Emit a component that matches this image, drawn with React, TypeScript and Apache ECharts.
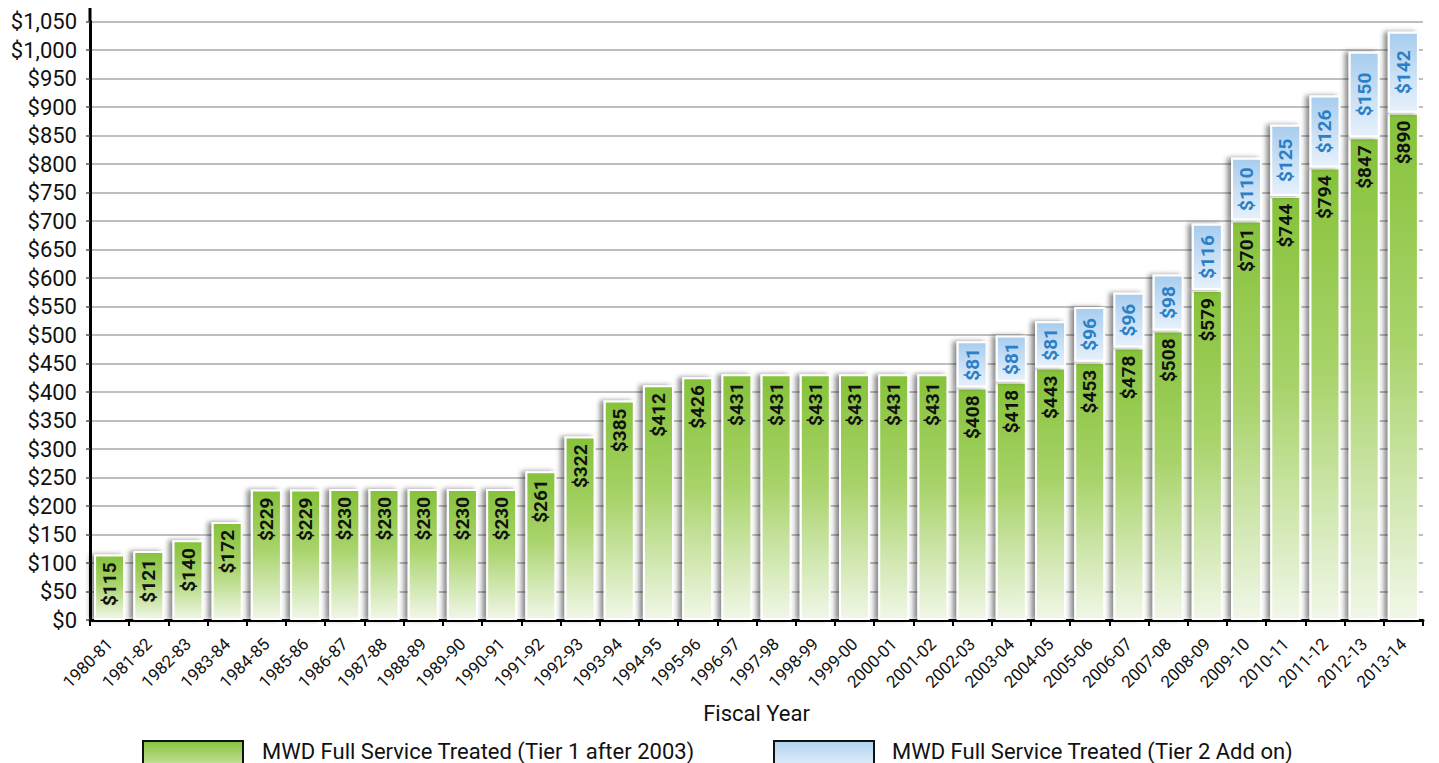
import React, { useEffect, useRef } from "react";
import * as echarts from "echarts";

const categories = [
  "1980-81", "1981-82", "1982-83", "1983-84", "1984-85", "1985-86", "1986-87", "1987-88",
  "1988-89", "1989-90", "1990-91", "1991-92", "1992-93", "1993-94", "1994-95", "1995-96",
  "1996-97", "1997-98", "1998-99", "1999-00", "2000-01", "2001-02", "2002-03", "2003-04",
  "2004-05", "2005-06", "2006-07", "2007-08", "2008-09", "2009-10", "2010-11", "2011-12",
  "2012-13", "2013-14",
];

const tier1Values = [
  115, 121, 140, 172, 229, 229, 230, 230, 230, 230, 230, 261, 322, 385, 412, 426,
  431, 431, 431, 431, 431, 431, 408, 418, 443, 453, 478, 508, 579, 701, 744, 794,
  847, 890,
];

const tier2Values: (number | null)[] = [
  null, null, null, null, null, null, null, null, null, null, null, null, null, null, null, null,
  null, null, null, null, null, null, 81, 81, 81, 96, 96, 98, 116, 110, 125, 126,
  150, 142,
];

const yTicks = { min: 0, max: 1050, interval: 50 };

const tier1Name = "MWD Full Service Treated (Tier 1 after 2003)";
const tier2Name = "MWD Full Service Treated (Tier 2 Add on)";

const fmtMoney = (v: number) => "$" + v.toLocaleString("en-US");

export default function App() {
  const ref = useRef<HTMLDivElement>(null);
  useEffect(() => {
    if (!ref.current) return;
    const chart = echarts.init(ref.current, null, { renderer: "svg" });
    const font = "Roboto, 'Noto Sans', sans-serif";
    const greenStops = [
      { offset: 0, color: "#86c23a" },
      { offset: 0.45, color: "#a8d36a" },
      { offset: 1, color: "#f1f7e8" },
    ];
    const blueStops = [
      { offset: 0, color: "#a8cdee" },
      { offset: 1, color: "#e7f1fb" },
    ];
    const greenGrad = new echarts.graphic.LinearGradient(0, 0, 0, 1, greenStops);
    const blueGrad = new echarts.graphic.LinearGradient(0, 0, 0, 1, blueStops);
    const legendGreen = new echarts.graphic.LinearGradient(0, 0, 0, 1, [
      { offset: 0, color: "#86c23a" },
      { offset: 1, color: "#c9e3a2" },
    ]);
    const legendBlue = new echarts.graphic.LinearGradient(0, 0, 0, 1, [
      { offset: 0, color: "#b0d2f0" },
      { offset: 1, color: "#e3eefa" },
    ]);
    chart.setOption({
      animation: false,
      textStyle: { fontFamily: font },
      grid: { left: 90, right: 16, top: 21.5, bottom: 143, containLabel: false },
      legend: { show: false },
      xAxis: {
        type: "category",
        data: categories,
        name: "Fiscal Year",
        nameLocation: "middle",
        nameGap: 82,
        nameTextStyle: { fontSize: 22, color: "#111", fontFamily: font },
        axisLine: { lineStyle: { color: "#000", width: 3 } },
        axisTick: { show: true, length: 6, lineStyle: { color: "#000", width: 2 }, alignWithLabel: false },
        axisLabel: { rotate: 45, interval: 0, fontSize: 17, color: "#111", margin: 21 },
      },
      yAxis: {
        type: "value",
        min: yTicks.min,
        max: yTicks.max,
        interval: yTicks.interval,
        axisLine: { show: true, lineStyle: { color: "#000", width: 3 } },
        axisTick: { show: true, length: 4, lineStyle: { color: "#555", width: 1.5 } },
        axisLabel: { fontSize: 22, color: "#111", margin: 13, formatter: (v: number) => fmtMoney(v) },
        splitLine: { show: true, lineStyle: { color: "#a9a9a9", width: 1.6 } },
      },
      graphic: [
        { type: "line", shape: { x1: 90, y1: 8, x2: 90, y2: 22 }, style: { stroke: "#000", lineWidth: 3 } },
        {
          type: "rect",
          shape: { x: 143, y: 741, width: 100, height: 26 },
          style: { fill: legendGreen, stroke: "#111", lineWidth: 2 },
        },
        {
          type: "text",
          x: 262,
          y: 751,
          style: { text: tier1Name, font: `22px ${font}`, fill: "#111", verticalAlign: "middle" },
        },
        {
          type: "rect",
          shape: { x: 774, y: 741, width: 100, height: 26 },
          style: { fill: legendBlue, stroke: "#111", lineWidth: 2 },
        },
        {
          type: "text",
          x: 892,
          y: 751,
          style: { text: tier2Name, font: `22px ${font}`, fill: "#111", verticalAlign: "middle" },
        },
      ],
      series: [
        {
          name: tier1Name,
          type: "bar",
          stack: "total",
          barWidth: 31,
          data: tier1Values,
          itemStyle: {
            color: greenGrad,
            borderColor: "#ffffff",
            borderWidth: 2,
            shadowBlur: 5,
            shadowColor: "rgba(0,0,0,0.45)",
            shadowOffsetX: -4,
          },
          label: {
            show: true,
            position: "insideTop",
            rotate: 90,
            align: "right",
            verticalAlign: "middle",
            distance: 8,
            fontSize: 19,
            fontWeight: "bold",
            color: "#111",
            fontFamily: font,
            formatter: (p: any) => fmtMoney(p.value),
          },
        },
        {
          name: tier2Name,
          type: "bar",
          stack: "total",
          barWidth: 31,
          data: tier2Values,
          itemStyle: {
            color: blueGrad,
            borderColor: "#ffffff",
            borderWidth: 2,
            shadowBlur: 5,
            shadowColor: "rgba(0,0,0,0.45)",
            shadowOffsetX: -4,
          },
          label: {
            show: true,
            position: "inside",
            rotate: 90,
            fontSize: 19,
            fontWeight: "bold",
            color: "#2a7fc6",
            fontFamily: font,
            formatter: (p: any) => (p.value == null ? "" : fmtMoney(p.value)),
          },
        },
      ],
    });
    return () => chart.dispose();
  }, []);
  return (
    <div
      ref={ref}
      style={{ position: "fixed", left: 0, top: 0, width: 1439, height: 763, background: "#fff" }}
    />
  );
}
